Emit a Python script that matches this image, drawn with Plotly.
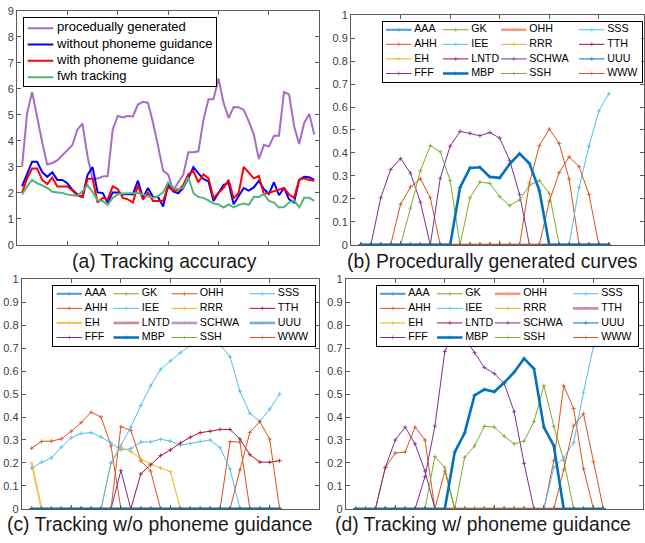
import plotly.graph_objects as go

W, H = 645, 543

# ---------------- data ----------------
# (a) tracking accuracy, 59 frames
frames_a = list(range(1, 60))
series_a_names = ["procedually generated", "without phoneme guidance",
                  "with phoneme guidance", "fwh tracking"]
procedural = [3.0, 5.06, 5.88, 4.85, 3.95, 3.09, 3.15, 3.25, 3.45, 3.62,
              3.84, 4.44, 4.66, 3.4, 2.55, 2.55, 2.63, 2.65, 4.44, 4.96,
              4.9, 4.96, 4.94, 5.4, 5.5, 5.46, 4.7, 3.8, 2.85, 2.7,
              2.1, 2.4, 2.7, 3.56, 3.56, 3.6, 4.8, 5.6, 5.6, 6.4,
              5.46, 4.88, 5.3, 5.29, 5.19, 4.75, 4.25, 3.3, 3.84, 3.79,
              4.2, 4.2, 5.88, 5.79, 4.56, 3.88, 4.69, 5.04, 4.25]
without_guidance = [2.25, 2.75, 3.2, 3.2, 2.8, 2.62, 2.79, 2.5, 2.5, 2.37,
                    2.12, 1.94, 1.84, 2.69, 2.99, 2.02, 2.0, 1.62, 2.02, 2.02,
                    1.94, 1.96, 1.94, 2.47, 1.81, 2.19, 1.84, 1.84, 1.48, 2.32,
                    2.06, 1.98, 2.19, 2.56, 2.99, 2.75, 2.54, 2.44, 1.69, 2.0,
                    2.31, 2.38, 1.56, 1.88, 2.19, 2.09, 2.21, 2.46, 2.15, 1.96,
                    2.41, 1.91, 2.19, 1.75, 1.63, 2.5, 2.62, 2.6, 2.5]
with_guidance = [2.0, 2.56, 2.94, 2.94, 2.5, 2.34, 2.59, 2.25, 2.25, 2.25,
                 2.09, 1.9, 1.84, 2.54, 2.54, 1.63, 1.81, 1.75, 2.25, 2.15,
                 1.81, 1.75, 1.63, 2.29, 1.75, 2.0, 1.69, 1.69, 1.69, 2.23,
                 2.09, 2.09, 2.31, 2.71, 2.84, 2.41, 2.71, 2.56, 1.81, 2.0,
                 2.19, 2.5, 1.79, 2.0, 3.0, 2.78, 2.56, 2.65, 1.96, 2.0,
                 2.06, 2.13, 2.19, 1.94, 1.81, 2.5, 2.56, 2.5, 2.47]
fwh_tracking = [1.94, 2.25, 2.5, 2.37, 2.29, 2.19, 2.04, 2.02, 2.0, 1.94,
                1.91, 1.88, 2.06, 2.29, 2.04, 1.71, 1.69, 1.54, 1.81, 1.94,
                1.98, 1.98, 2.0, 2.0, 1.94, 1.88, 1.81, 1.88, 2.02, 2.4,
                2.21, 2.13, 2.21, 2.6, 2.0, 1.84, 1.81, 1.71, 1.59, 1.56,
                1.44, 1.56, 1.44, 1.54, 1.59, 1.54, 1.84, 1.84, 1.96, 1.69,
                1.63, 1.44, 1.46, 1.63, 1.71, 1.44, 1.81, 1.81, 1.69]

# (b)-(d) viseme curves, 26 frames
frames = list(range(1, 27))
phonemes = ["AAA", "AHH", "EH", "FFF", "GK", "IEE", "LNTD", "MBP",
            "OHH", "RRR", "SCHWA", "SSH", "SSS", "TTH", "UUU", "WWW"]
zero26 = [0] * 26

# (b) procedurally generated
b_AHH = [0, 0, 0, 0, 0.177, 0.252, 0.288, 0.205, 0, 0, 0, 0, 0, 0, 0, 0, 0,
         0.27, 0.432, 0.504, 0.441, 0.286, 0, 0, 0, 0]
b_FFF = [0, 0, 0.205, 0.328, 0.376, 0.312, 0.186, 0, 0, 0, 0, 0, 0, 0, 0, 0,
         0, 0, 0, 0, 0, 0, 0, 0, 0, 0]
b_GK = [0, 0, 0, 0, 0, 0.16, 0.323, 0.432, 0.405, 0.28, 0, 0, 0, 0, 0, 0,
        0, 0, 0, 0, 0, 0, 0, 0, 0, 0]
b_MBP = [0, 0, 0, 0, 0, 0, 0, 0, 0, 0, 0.25, 0.335, 0.338, 0.296, 0.292,
         0.352, 0.397, 0.354, 0.236, 0, 0, 0, 0, 0, 0, 0]
b_SCHWA = [0, 0, 0, 0, 0, 0, 0, 0, 0.29, 0.43, 0.494, 0.486, 0.475, 0.489,
           0.465, 0.368, 0.22, 0, 0, 0, 0, 0, 0, 0, 0, 0]
b_SSH = [0, 0, 0, 0, 0, 0, 0, 0, 0, 0, 0, 0.205, 0.273, 0.268, 0.21, 0.171,
         0.196, 0.26, 0.28, 0.224, 0, 0, 0, 0, 0, 0]
b_SSS = [0, 0, 0, 0, 0, 0, 0, 0, 0, 0, 0, 0, 0, 0, 0, 0, 0, 0, 0, 0, 0, 0,
         0.25, 0.43, 0.583, 0.658]
b_WWW = [0, 0, 0, 0, 0, 0, 0, 0, 0, 0, 0, 0, 0, 0, 0, 0, 0, 0, 0, 0.19,
         0.315, 0.383, 0.341, 0.22, 0, 0]

# (c) tracking without phoneme guidance
c_AHH = [0.264, 0.294, 0.295, 0.305, 0.338, 0.376, 0.421, 0.4, 0.275, 0,
         0, 0, 0, 0, 0, 0, 0, 0, 0, 0, 0.293, 0.291, 0, 0, 0, 0]
c_EH = [0.2, 0, 0, 0, 0, 0, 0, 0, 0, 0, 0, 0, 0, 0, 0, 0, 0, 0, 0, 0, 0, 0,
        0, 0, 0, 0]
c_FFF = [0, 0, 0, 0, 0, 0, 0, 0, 0, 0.167, 0, 0, 0, 0, 0, 0, 0, 0, 0, 0, 0,
         0, 0, 0, 0, 0]
c_IEE = [0.177, 0.203, 0.222, 0.269, 0.31, 0.328, 0.332, 0.313, 0.287, 0.257,
         0.262, 0.291, 0.292, 0.303, 0.295, 0.277, 0.285, 0.294, 0.3, 0.266,
         0.174, 0, 0, 0, 0, 0]
c_OHH = [0, 0, 0, 0, 0, 0, 0, 0, 0, 0.358, 0.342, 0.21, 0.165, 0, 0, 0, 0,
         0, 0, 0, 0, 0, 0, 0, 0, 0]
c_RRR = [0, 0, 0, 0, 0, 0, 0, 0, 0.2, 0.267, 0.25, 0.218, 0.195, 0.177,
         0.162, 0, 0, 0, 0, 0, 0, 0, 0, 0, 0, 0]
c_SSS = [0, 0, 0, 0, 0, 0, 0, 0, 0.2, 0.275, 0.355, 0.45, 0.536, 0.607,
         0.645, 0.68, 0.712, 0.74, 0.75, 0.715, 0.662, 0.512, 0.416, 0.381,
         0.434, 0.5]
c_TTH = [0, 0, 0, 0, 0, 0, 0, 0, 0, 0, 0, 0.152, 0.192, 0.232, 0.257, 0.287,
         0.312, 0.332, 0.338, 0.346, 0.346, 0.304, 0.236, 0.204, 0.203, 0.21]
c_WWW = [0, 0, 0, 0, 0, 0, 0, 0, 0, 0, 0, 0, 0, 0, 0, 0, 0, 0, 0, 0, 0,
         0.17, 0.333, 0.38, 0.304, 0]

# (d) tracking with phoneme guidance
d_AHH = [0, 0, 0, 0.18, 0.243, 0.248, 0.356, 0.3, 0, 0.165, 0, 0, 0, 0, 0,
         0, 0, 0, 0, 0, 0.21, 0.536, 0.437, 0.175, 0, 0]
d_FFF = [0, 0, 0, 0.18, 0.3, 0.356, 0.283, 0.165, 0, 0, 0, 0, 0, 0, 0, 0,
         0, 0, 0, 0, 0, 0, 0, 0, 0, 0]
d_GK = [0, 0, 0, 0, 0, 0, 0, 0, 0.228, 0.18, 0, 0, 0, 0, 0, 0, 0, 0, 0, 0,
        0, 0, 0, 0, 0, 0]
d_MBP = [0, 0, 0, 0, 0, 0, 0, 0, 0, 0, 0.247, 0.33, 0.494, 0.52, 0.51, 0.55,
         0.595, 0.655, 0.61, 0.355, 0.275, 0, 0, 0, 0, 0]
d_SCHWA = [0, 0, 0, 0, 0, 0, 0, 0.14, 0.36, 0.685, 0.77, 0.745, 0.68, 0.615,
           0.589, 0.545, 0.423, 0.198, 0, 0, 0, 0, 0, 0, 0, 0]
d_SSH = [0, 0, 0, 0, 0, 0, 0, 0, 0, 0, 0, 0.224, 0.274, 0.36, 0.356, 0.316,
         0.283, 0.295, 0.38, 0.536, 0.36, 0.213, 0, 0, 0, 0]
d_SSS = [0, 0, 0, 0, 0, 0, 0, 0, 0, 0, 0, 0, 0, 0, 0, 0, 0, 0, 0, 0, 0.18,
         0.222, 0.289, 0.508, 0.706, 0.86]
d_WWW = [0, 0, 0, 0, 0, 0, 0, 0, 0, 0, 0, 0, 0, 0, 0, 0, 0, 0, 0, 0, 0, 0.17,
         0.362, 0.414, 0.205, 0]

curves_b = {"AHH": b_AHH, "FFF": b_FFF, "GK": b_GK, "MBP": b_MBP,
            "SCHWA": b_SCHWA, "SSH": b_SSH, "SSS": b_SSS, "WWW": b_WWW}
curves_c = {"AHH": c_AHH, "EH": c_EH, "FFF": c_FFF, "IEE": c_IEE,
            "OHH": c_OHH, "RRR": c_RRR, "SSS": c_SSS, "TTH": c_TTH,
            "WWW": c_WWW}
curves_d = {"AHH": d_AHH, "FFF": d_FFF, "GK": d_GK, "MBP": d_MBP,
            "SCHWA": d_SCHWA, "SSH": d_SSH, "SSS": d_SSS, "WWW": d_WWW}

captions = ["(a) Tracking accuracy", "(b) Procedurally generated curves",
            "(c) Tracking w/o phoneme guidance", "(d) Tracking w/ phoneme guidance"]

# ---------------- styles ----------------
COLORS_A = ["#A86CC6", "#0000FF", "#FF0000", "#52B47C"]
PH_COLORS = {"AAA": "#0072BD", "AHH": "#D95319", "EH": "#EDB120", "FFF": "#7E2F8E",
             "GK": "#77AC30", "IEE": "#4DBEEE", "LNTD": "#A2142F", "MBP": "#0072BD",
             "OHH": "#D95319", "RRR": "#EDB120", "SCHWA": "#7E2F8E", "SSH": "#77AC30",
             "SSS": "#4DBEEE", "TTH": "#A2142F", "UUU": "#0072BD", "WWW": "#D95319"}
# (width, opacity) overrides per panel
STYLE_B = {"AAA": (2.0, 0.7), "OHH": (2.6, 0.55), "MBP": (2.6, 1.0)}
STYLE_C = {"AAA": (2.0, 0.7), "EH": (2.0, 0.75), "LNTD": (2.6, 0.5),
           "SCHWA": (2.6, 0.5), "UUU": (2.6, 0.55), "MBP": (2.6, 1.0)}
STYLE_D = {"AAA": (2.0, 0.7), "OHH": (2.6, 0.55), "TTH": (2.6, 0.5), "MBP": (2.6, 1.0)}

TICK_FONT = dict(family="Liberation Sans, Arial, sans-serif", size=11, color="#404040")
LEG_FONT = "Liberation Sans, Arial, sans-serif"
CAP_FONT = dict(family="Liberation Sans, Arial, sans-serif", size=19.3, color="#1a1a1a")
AX_COLOR = "#5a5a5a"
MARK_SIZE = 3


def dx(l, r):
    return [l / W, r / W]


def dy(top, bottom):
    return [1 - bottom / H, 1 - top / H]


# panel boxes in px: (left, right, top, bottom)
PANELS = [(17, 319.3, 5, 244.3), (351, 643.5, 9.3, 244.3),
          (21.7, 319.3, 279.3, 514.3), (345.7, 643, 279.3, 514.3)]
XRANGES = [[0, 60], [0, 29.5], [0, 30], [0, 30]]
XDTICK = [10, 5, 5, 5]
YRANGES = [[0, 9], [0, 1], [0, 1], [0, 1]]
YDTICK = [1, 0.1, 0.1, 0.1]
# legend boxes in px
LEGBOX = [(24, 216, 12.3, 82.3), (382.7, 641.5, 16, 77.5),
          (53.3, 314.5, 286, 347.3), (376.7, 638.3, 286, 347.3)]
# caption anchor (x px, y px, xanchor)
CAPTION_POS = [(164, 261, "center"), (492, 261, "center"),
               (159.5, 530, "center"), (482.5, 530, "center")]

fig = go.Figure()

# ---- panel (a) ----
for name, ys, col in zip(series_a_names,
                         [procedural, without_guidance, with_guidance, fwh_tracking],
                         COLORS_A):
    fig.add_trace(go.Scatter(x=frames_a, y=ys, mode="lines", name=name,
                             line=dict(color=col, width=2), xaxis="x", yaxis="y"))


def add_phoneme_panel(curves, styles, ax):
    order = [p for p in phonemes if p != "MBP"] + ["MBP"]
    for p in order:
        w, op = styles.get(p, (1.0, 1.0))
        fig.add_trace(go.Scatter(
            x=frames, y=curves.get(p, zero26), mode="lines+markers", name=p,
            line=dict(color=PH_COLORS[p], width=w), opacity=op,
            marker=dict(symbol="cross-thin", size=MARK_SIZE, color=PH_COLORS[p],
                        line=dict(color=PH_COLORS[p], width=0.8)),
            xaxis="x" + ax, yaxis="y" + ax))


add_phoneme_panel(curves_b, STYLE_B, "2")
add_phoneme_panel(curves_c, STYLE_C, "3")
add_phoneme_panel(curves_d, STYLE_D, "4")

# ---- legends drawn in their own small axes ----
LEG_A = dict(rows0=10.4, rowstep=16.7, cols=[3.7], slen=25.6, toff=29.4, size=13)
LEG_P = dict(rows0=8.3, rowstep=14.9, cols=[3.3, 60.3, 118.3, 196.3], slen=25.5,
             toff=28.2, size=10.7)


def add_legend(names, colors, styles, grid, ax, nrows):
    for k, (nm, col) in enumerate(zip(names, colors)):
        c, r = k // nrows, k % nrows
        s = grid["cols"][c]
        yv = grid["rows0"] + r * grid["rowstep"]
        w, op = styles.get(nm, (2.0 if ax == "5" else 1.0, 1.0))
        fig.add_trace(go.Scatter(
            x=[s, s + grid["slen"] / 2, s + grid["slen"]], y=[yv, yv, yv],
            mode="lines+markers", line=dict(color=col, width=w), opacity=op,
            marker=dict(symbol="cross-thin", size=[0, 0 if ax == "5" else MARK_SIZE, 0],
                        color=col, line=dict(color=col, width=0.8)),
            xaxis="x" + ax, yaxis="y" + ax, cliponaxis=False))
        fig.add_trace(go.Scatter(
            x=[s + grid["toff"]], y=[yv], mode="text", text=[nm],
            textposition="middle right", cliponaxis=False,
            textfont=dict(family=LEG_FONT, size=grid["size"], color="#000000"),
            xaxis="x" + ax, yaxis="y" + ax))


add_legend(series_a_names, COLORS_A, {}, LEG_A, "5", 4)
add_legend(phonemes, [PH_COLORS[p] for p in phonemes], STYLE_B, LEG_P, "6", 4)
add_legend(phonemes, [PH_COLORS[p] for p in phonemes], STYLE_C, LEG_P, "7", 4)
add_legend(phonemes, [PH_COLORS[p] for p in phonemes], STYLE_D, LEG_P, "8", 4)

layout = dict(width=W, height=H, margin=dict(l=0, r=0, t=0, b=0),
              paper_bgcolor="white", plot_bgcolor="white",
              showlegend=False, hovermode=False)

for i in range(4):
    sfx = "" if i == 0 else str(i + 1)
    l, r, t, b = PANELS[i]
    layout["xaxis" + sfx] = dict(
        domain=dx(l, r), range=XRANGES[i], tick0=0, dtick=XDTICK[i],
        showticklabels=False, ticks="inside", ticklen=4, tickcolor=AX_COLOR,
        showline=True, linecolor=AX_COLOR, linewidth=1, mirror="allticks",
        showgrid=False, zeroline=False, anchor="y" + sfx, fixedrange=True)
    layout["yaxis" + sfx] = dict(
        domain=dy(t, b), range=YRANGES[i], tick0=0, dtick=YDTICK[i],
        ticks="inside", ticklen=4, tickcolor=AX_COLOR, tickfont=TICK_FONT,
        showline=True, linecolor=AX_COLOR, linewidth=1, mirror="allticks",
        showgrid=False, zeroline=False, anchor="x" + sfx, fixedrange=True)

for i in range(4):
    sfx = str(i + 5)
    l, r, t, b = LEGBOX[i]
    layout["xaxis" + sfx] = dict(
        domain=dx(l, r), range=[0, r - l], visible=True, showticklabels=False,
        ticks="", showline=True, linecolor="#000000", linewidth=1, mirror=True,
        showgrid=False, zeroline=False, anchor="y" + sfx, fixedrange=True)
    layout["yaxis" + sfx] = dict(
        domain=dy(t, b), range=[b - t, 0], showticklabels=False,
        ticks="", showline=True, linecolor="#000000", linewidth=1, mirror=True,
        showgrid=False, zeroline=False, anchor="x" + sfx, fixedrange=True)

layout["annotations"] = [
    dict(text=cap, x=cx / W, y=1 - cy / H, xref="paper", yref="paper",
         xanchor=xa, yanchor="middle", showarrow=False, borderpad=0,
         font=CAP_FONT)
    for cap, (cx, cy, xa) in zip(captions, CAPTION_POS)]

fig.update_layout(**layout)
fig.write_html("out.html",
               config={"displayModeBar": False, "staticPlot": True},
               post_script="document.body.style.margin='0';"
                           "document.body.style.padding='0';"
                           "document.body.style.overflow='hidden';")
